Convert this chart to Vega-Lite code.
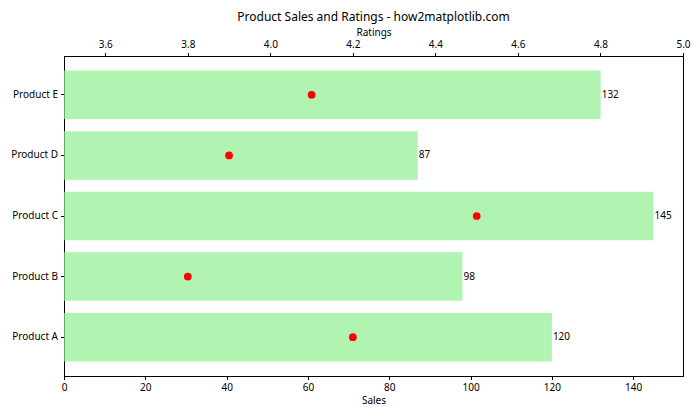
{
  "$schema": "https://vega.github.io/schema/vega-lite/v6.json",
  "width": 619,
  "height": 320,
  "autosize": {"type": "none"},
  "padding": {"left": 64, "top": 56, "right": 17, "bottom": 44},
  "background": "white",
  "title": {"text": "Product Sales and Ratings - how2matplotlib.com", "fontSize": 12, "font": "Noto Sans", "fontWeight": "normal", "color": "black", "anchor": "middle", "offset": 4},
  "data": {"values": [
    {"product": "Product A", "sales": 120, "rating": 4.2},
    {"product": "Product B", "sales": 98, "rating": 3.8},
    {"product": "Product C", "sales": 145, "rating": 4.5},
    {"product": "Product D", "sales": 87, "rating": 3.9},
    {"product": "Product E", "sales": 132, "rating": 4.1}
  ]},
  "encoding": {
    "y": {"field": "product", "type": "nominal", "sort": ["Product E", "Product D", "Product C", "Product B", "Product A"],
          "scale": {"paddingInner": 0.2, "paddingOuter": 0.24},
          "axis": {"title": null, "labelPadding": 3}}
  },
  "layer": [
    {
      "encoding": {
        "x": {"field": "sales", "type": "quantitative", "scale": {"domain": [0, 152.25], "nice": false},
              "axis": {"title": "Sales", "values": [0, 20, 40, 60, 80, 100, 120, 140], "titlePadding": 3, "labelPadding": 3}}
      },
      "layer": [
        {"mark": {"type": "bar", "color": "lightgreen", "opacity": 0.7}},
        {
          "mark": {"type": "text", "align": "left", "baseline": "middle", "dx": 1, "fontSize": 10, "font": "Noto Sans", "color": "black"},
          "encoding": {"text": {"field": "sales", "type": "quantitative"}}
        }
      ]
    },
    {
      "mark": {"type": "point", "filled": true, "color": "red", "size": 60, "opacity": 1},
      "encoding": {
        "x": {"field": "rating", "type": "quantitative", "scale": {"domain": [3.5, 5.0], "nice": false, "zero": false},
              "axis": {"orient": "top", "title": "Ratings", "values": [3.6, 3.8, 4.0, 4.2, 4.4, 4.6, 4.8, 5.0], "format": ".1f", "titlePadding": 2, "labelPadding": 3}}
      }
    }
  ],
  "resolve": {"scale": {"x": "independent"}, "axis": {"x": "independent"}},
  "config": {
    "view": {"stroke": "black", "strokeWidth": 1},
    "axis": {"grid": false, "domainColor": "black", "tickColor": "black", "labelColor": "black", "titleColor": "black",
             "labelFont": "Noto Sans", "titleFont": "Noto Sans", "labelFontSize": 10, "titleFontSize": 10,
             "titleFontWeight": "normal", "tickSize": 3.5, "labelFlush": false}
  }
}
